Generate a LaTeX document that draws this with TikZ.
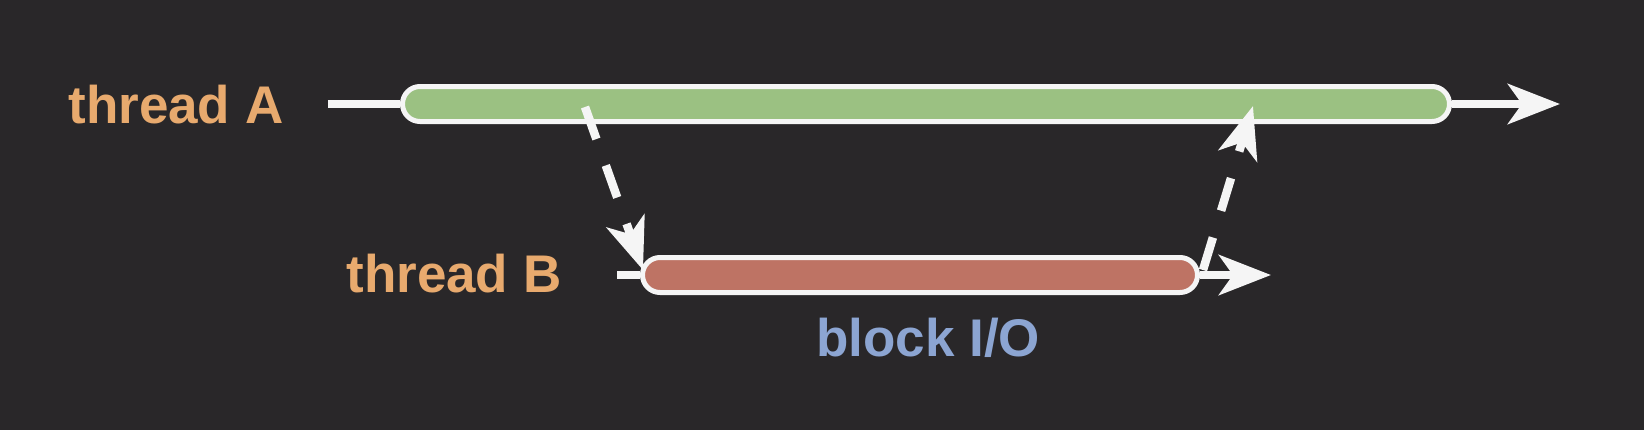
\documentclass[tikz,border=0pt]{standalone}
\usepackage{fontspec}
\setmainfont{Liberation Sans}
\usetikzlibrary{arrows.meta}
\definecolor{bg}{RGB}{41,39,41}
\definecolor{greenbar}{RGB}{155,193,130}
\definecolor{redbar}{RGB}{190,115,100}
\definecolor{orangetext}{RGB}{232,170,110}
\definecolor{bluetext}{RGB}{140,165,210}
\definecolor{linecol}{RGB}{245,245,245}
\begin{document}
\begin{tikzpicture}[x=0.5pt,y=-0.5pt,
  lbl/.style={font=\bfseries\fontsize{26.5}{30}\selectfont, inner sep=0pt, anchor=base west},
  bar/.style={draw=linecol, line width=2.5pt, rounded corners=8.75pt, inner sep=0pt, minimum height=17.5pt},
  tl/.style={draw=linecol, line width=4.25pt},
  head/.style={-{Stealth[length=26pt,width=20pt,inset=7pt]}},
  dsh/.style={draw=linecol, line width=4.25pt, dash pattern=on 17pt off 14pt}]
\fill[bg] (0,0) rectangle (1644,430);
\useasboundingbox (0,0) rectangle (1644,430);

\node[lbl, text=orangetext] (la) at (68,123) {thread A};
\node[lbl, text=orangetext] (lb) at (346,292) {thread B};
\node[lbl, text=bluetext] (lio) at (816,356) {block I/O};

\coordinate (sa) at (328,104);
\coordinate (ea) at (1560,104);
\coordinate (sb) at (617,275);
\coordinate (eb) at (1271,275);

\node[bar, fill=greenbar, minimum width=523.5pt] (A) at (926,104) {};
\node[bar, fill=redbar, minimum width=277.5pt] (B) at (920,275) {};

\draw[tl] (sa) -- (A.west);
\draw[tl, head] (A.east) -- (ea);
\draw[tl] (sb) -- (B.west);
\draw[tl, head] (B.east) -- (eb);

\coordinate (d1s) at (585,107);
\coordinate (d1e) at (643,270);
\coordinate (d2s) at (1203,270);
\coordinate (d2e) at (1253,106);
\draw[dsh, head] (d1s) -- (d1e);
\draw[dsh, head] (d2s) -- (d2e);
\end{tikzpicture}
\end{document}
